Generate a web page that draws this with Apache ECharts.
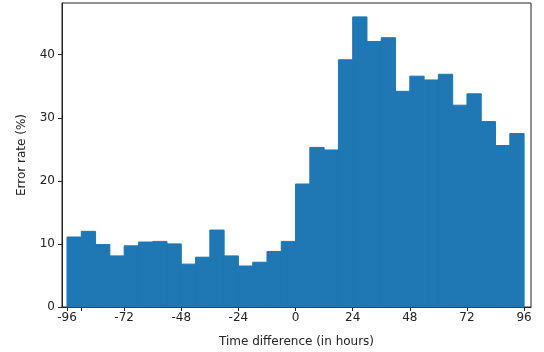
<!DOCTYPE html>
<html>
<head>
  <meta charset="utf-8"/>
  <title>Error rate by time difference</title>
  <script src="https://cdn.jsdelivr.net/npm/echarts@6/dist/echarts.min.js"></script>
  <style>
    html, body { margin: 0; padding: 0; background: #fff; }
  </style>
</head>
<body>
<div id="main" style="width: 544px;height: 352px"></div>
<script type="text/javascript">
  // histogram bins: left edge of each 6 hour bin, and its error rate (%)
  var binStarts = [-96, -90, -84, -78, -72, -66, -60, -54, -48, -42, -36, -30, -24, -18, -12, -6,
                   0, 6, 12, 18, 24, 30, 36, 42, 48, 54, 60, 66, 72, 78, 84, 90];
  var binWidth = 6;
  var errorRate = [11.1, 12.0, 9.9, 8.1, 9.7, 10.3, 10.4, 10.0, 6.8, 7.9, 12.2, 8.1, 6.5, 7.1, 8.8, 10.4,
                   19.5, 25.3, 24.9, 39.2, 46.0, 42.1, 42.7, 34.2, 36.6, 36.0, 36.9, 32.0, 33.8, 29.4, 25.6, 27.5];
  var xTicks = [-96, -72, -48, -24, 0, 24, 48, 72, 96];
  var xTickMarks = [-96, -90, -72, -48, -24, 0, 24, 48, 72, 96];  // stray unlabeled tick at -90
  var yTicks = [0, 10, 20, 30, 40];

  var myChart = echarts.init(document.getElementById('main'));

  var bins = binStarts.map(function (s, i) {
    return [s, s + binWidth, errorRate[i]];
  });

  var txt = { color: '#222', fontSize: 12, fontFamily: 'DejaVu Sans' };

  myChart.setOption({
    animation: false,
    grid: {
      left: 62, right: 13, top: 3, bottom: 45,
      outerBoundsMode: 'none',
      show: true, borderColor: '#222', borderWidth: 1
    },
    xAxis: {
      type: 'value',
      min: -98.1,
      max: 98.9,
      name: 'Time difference (in hours)',
      nameLocation: 'middle',
      nameGap: 29,
      nameTextStyle: txt,
      splitLine: { show: false },
      axisLine: { show: true, onZero: false, lineStyle: { color: '#222' } },
      axisTick: { show: true, length: 4, customValues: xTickMarks, lineStyle: { color: '#222' } },
      axisLabel: Object.assign({ customValues: xTicks, margin: 5, showMinLabel: true, showMaxLabel: true }, txt)
    },
    yAxis: {
      type: 'value',
      min: 0,
      max: 48.2,
      name: 'Error rate (%)',
      nameLocation: 'middle',
      nameRotate: 90,
      nameGap: 34,
      nameTextStyle: txt,
      splitLine: { show: false },
      axisLine: { show: true, onZero: false, lineStyle: { color: '#222' } },
      axisTick: { show: true, length: 4, customValues: yTicks, lineStyle: { color: '#222' } },
      axisLabel: Object.assign({ customValues: yTicks, margin: 7 }, txt)
    },
    series: [{
      type: 'custom',
      data: bins,
      encode: { x: [0, 1], y: 2 },
      renderItem: function (params, api) {
        var p0 = api.coord([api.value(0), 0]);
        var p1 = api.coord([api.value(1), api.value(2)]);
        return {
          type: 'rect',
          shape: { x: p0[0], y: p1[1], width: p1[0] - p0[0], height: p0[1] - p1[1] },
          style: { fill: '#1f77b4', stroke: '#1f77b4', lineWidth: 1 }
        };
      }
    }]
  });
</script>
</body>
</html>
